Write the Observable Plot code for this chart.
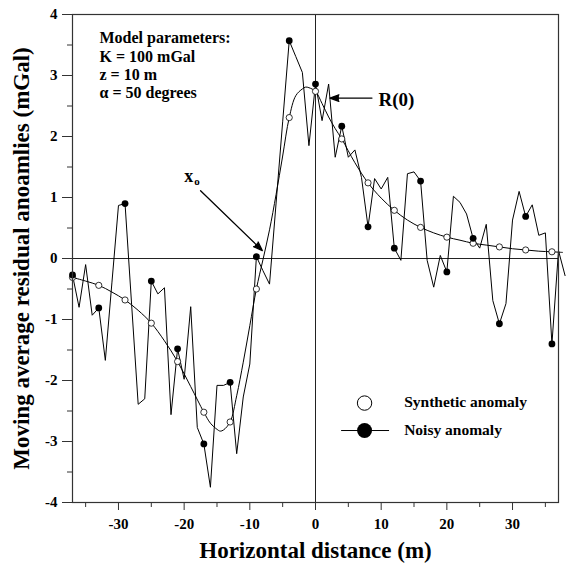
<!DOCTYPE html>
<html><head><meta charset="utf-8">
<script src="https://cdn.jsdelivr.net/npm/d3@7"></script>
<script src="https://cdn.jsdelivr.net/npm/@observablehq/plot@0.6"></script>
<style>body{margin:0;background:#fff}</style>
</head><body><div id="chart"></div>
<script>
// Noisy anomaly (1 m sampling)
const noisyX = [-37,-36,-35,-34,-33,-32,-31,-30,-29,-28,-27,-26,-25,-24,-23,-22,-21,-20,-19,-18,-17,-16,-15,-14,-13,-12,-11,-10,-9,-8,-7,-6,-5,-4,-3,-2,-1,0,1,2,3,4,5,6,7,8,9,10,11,12,13,14,15,16,17,18,19,20,21,22,23,24,25,26,27,28,29,30,31,32,33,34,35,36,37,38];
const noisyY = [-0.27,-0.80,-0.10,-0.93,-0.81,-1.67,-0.40,0.87,0.90,-0.75,-2.39,-2.30,-0.37,-0.58,-0.48,-2.56,-1.48,-1.98,-0.79,-2.77,-3.04,-3.75,-2.08,-2.08,-2.03,-3.20,-2.27,-1.73,0.03,-0.20,-0.42,0.91,2.24,3.57,3.31,3.05,1.85,2.86,2.26,2.86,1.66,2.17,1.66,1.78,1.33,0.52,1.31,1.14,1.33,0.17,-0.03,1.39,1.42,1.27,-0.03,-0.47,0.05,-0.22,1.02,0.92,0.73,0.33,0.17,0.56,-0.69,-1.07,-0.74,0.63,1.10,0.69,0.88,0.38,0.42,-1.40,0.13,-0.28];
// Marker positions (both series)
const markerX = [-37,-33,-29,-25,-21,-17,-13,-9,-4,0,4,8,12,16,20,24,28,32,36];
const synthMarkerY = [-0.31,-0.44,-0.68,-1.06,-1.69,-2.52,-2.68,-0.50,2.31,2.74,1.96,1.24,0.79,0.51,0.35,0.25,0.19,0.14,0.11];
// Synthetic anomaly curve
const synthX = [-37,-35,-33,-31,-29,-27,-25,-23,-21,-19,-17,-16,-15,-14.5,-14,-13,-12,-11,-10,-9,-8,-7,-6,-5,-4,-3,-2,-1.5,-1,0,1,2,3,4,6,8,10,12,14,16,18,20,22,24,26,28,30,32,34,36,37.6];
const synthY = [-0.31,-0.37,-0.44,-0.55,-0.68,-0.85,-1.06,-1.35,-1.69,-2.10,-2.52,-2.70,-2.80,-2.83,-2.81,-2.68,-2.25,-1.70,-1.10,-0.50,-0.02,0.47,1.05,1.68,2.31,2.67,2.78,2.81,2.80,2.74,2.54,2.32,2.13,1.96,1.57,1.24,0.99,0.79,0.63,0.51,0.42,0.35,0.30,0.25,0.22,0.19,0.16,0.14,0.12,0.11,0.10];
// Tick labels
const xTicks = [-30,-20,-10,0,10,20,30];
const xMinor = [-35,-25,-15,-5,5,15,25,35];
const yTicks = [-4,-3,-2,-1,0,1,2,3,4];
const yMinor = [-3.5,-2.5,-1.5,-0.5,0.5,1.5,2.5,3.5];
// Texts
const xTitle = "Horizontal distance (m)";
const yTitle = "Moving average residual anoamlies (mGal)";
const paramLines = ["Model parameters:", "K = 100 mGal", "z = 10 m", "\u03b1 = 50 degrees"];
const legendLabels = ["Synthetic anomaly", "Noisy anomaly"];
// Annotation anchors (data coordinates)
const xoArrow = [{x1: -17.5, y1: 1.11, x2: -8.1, y2: 0.13}];
const r0Arrow = [{x1: 8.6, y1: 2.63, x2: 2.2, y2: 2.63}];
const xoLabel = {x: -20.0, y: 1.25};
const r0Label = {x: 9.6, y: 2.50, text: "R(0)"};
const legendPos = {x: 7.47, yS: -2.37, yN: -2.82, lx1: 3.9, lx2: 11.2, tx: 13.5, tyS: -2.43, tyN: -2.90};

const noisy = noisyX.map((x, i) => ({x, y: noisyY[i]}));
const synth = synthX.map((x, i) => ({x, y: synthY[i]}));
const noisyMarkers = markerX.map(x => ({x, y: noisyY[noisyX.indexOf(x)]}));
const synthMarkers = markerX.map((x, i) => ({x, y: synthMarkerY[i]}));

const FONT = "'Liberation Serif', 'Times New Roman', serif";
const fmt = d => String(d);

const chart = Plot.plot({
  width: 566, height: 563,
  marginLeft: 72, marginRight: 8, marginTop: 14, marginBottom: 61,
  style: {fontFamily: FONT, fontSize: "15px", fontWeight: "bold", color: "black", background: "white"},
  x: {domain: [-37, 37]},
  y: {domain: [-4, 4]},
  marks: [
    Plot.ruleX([0], {stroke: "#222", strokeWidth: 1}),
    Plot.ruleY([0], {stroke: "#222", strokeWidth: 1}),
    Plot.line(synth, {x: "x", y: "y", curve: "catmull-rom", stroke: "black", strokeWidth: 1}),
    Plot.line(noisy, {x: "x", y: "y", stroke: "black", strokeWidth: 1}),
    Plot.dot(synthMarkers, {x: "x", y: "y", r: 3.1, fill: "white", stroke: "black", strokeWidth: 0.8}),
    Plot.dot(noisyMarkers, {x: "x", y: "y", r: 3.4, fill: "black", stroke: "none"}),
    Plot.frame({stroke: "#333", strokeWidth: 1.2}),
    Plot.axisX(xTicks, {tickSize: 8, tickPadding: 8, tickFormat: fmt, fontSize: 15, label: null, stroke: "#333"}),
    Plot.axisX(xMinor, {tickSize: 5, tickFormat: () => "", label: null, stroke: "#333"}),
    Plot.axisY(yTicks, {tickSize: 10, tickPadding: 5, tickFormat: fmt, fontSize: 15, label: null, stroke: "#333"}),
    Plot.axisY(yMinor, {tickSize: 5, tickFormat: () => "", label: null, stroke: "#333"}),
    Plot.text([xTitle], {text: d => d, frameAnchor: "bottom", textAnchor: "middle", lineAnchor: "bottom", dy: 55, fontSize: 23}),
    Plot.text([yTitle], {text: d => d, frameAnchor: "left", textAnchor: "middle", lineAnchor: "bottom", rotate: -90, dx: -44, fontSize: 23}),
    Plot.text([paramLines.join("\n")], {text: d => d, frameAnchor: "top-left", textAnchor: "start", lineAnchor: "top", dx: 27, dy: 16, lineHeight: 1.14, fontSize: 16}),
    Plot.arrow(xoArrow, {x1: "x1", y1: "y1", x2: "x2", y2: "y2", stroke: "black", fill: "black", strokeWidth: 1.3, headLength: 11, headAngle: 40}),
    Plot.arrow(r0Arrow, {x1: "x1", y1: "y1", x2: "x2", y2: "y2", stroke: "black", fill: "black", strokeWidth: 1.3, headLength: 11, headAngle: 40}),
    Plot.text(["x"], {text: d => d, x: [xoLabel.x], y: [xoLabel.y], textAnchor: "start", lineAnchor: "bottom", fontSize: 18}),
    Plot.text(["o"], {text: d => d, x: [xoLabel.x], y: [xoLabel.y], textAnchor: "start", lineAnchor: "bottom", dx: 10, dy: 2.5, fontSize: 11}),
    Plot.text([r0Label], {text: "text", x: "x", y: "y", textAnchor: "start", lineAnchor: "bottom", fontSize: 19}),
    Plot.link([legendPos], {x1: "lx1", x2: "lx2", y1: "yN", y2: "yN", stroke: "black", strokeWidth: 1}),
    Plot.dot([legendPos], {x: "x", y: "yS", r: 7.2, fill: "white", stroke: "black", strokeWidth: 1}),
    Plot.dot([legendPos], {x: "x", y: "yN", r: 7.5, fill: "black", stroke: "none"}),
    Plot.text([legendLabels[0]], {text: d => d, x: [legendPos.tx], y: [legendPos.tyS], textAnchor: "start", lineAnchor: "bottom", fontSize: 15.5}),
    Plot.text([legendLabels[1]], {text: d => d, x: [legendPos.tx], y: [legendPos.tyN], textAnchor: "start", lineAnchor: "bottom", fontSize: 15.5})
  ]
});
document.getElementById("chart").appendChild(chart);
</script>
</body></html>
